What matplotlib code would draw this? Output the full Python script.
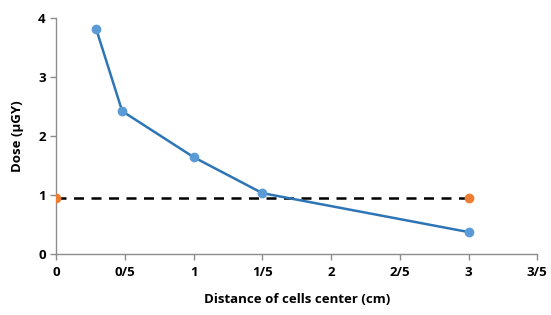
from matplotlib import pyplot as plt

# distance of cells center (cm) vs dose (uGy)
distance = [0.29, 0.48, 1.0, 1.5, 3.0]
dose = [3.82, 2.42, 1.64, 1.03, 0.37]

# reference level
ref_x = [0.0, 3.0]
ref_y = [0.95, 0.95]

xticks = [0, 0.5, 1, 1.5, 2, 2.5, 3, 3.5]
xlabels = ['0', '0/5', '1', '1/5', '2', '2/5', '3', '3/5']
yticks = [0, 1, 2, 3, 4]

plt.rcParams['font.family'] = ['Open Sans', 'DejaVu Sans']
plt.rcParams['font.weight'] = 'bold'

fig = plt.figure(figsize=(5.51, 3.15), dpi=100)
ax = fig.add_axes([0.102, 0.194, 0.873, 0.749])

ax.plot(ref_x, ref_y, color='black', ls=(0, (4, 3)), lw=1.8, zorder=2)
ax.plot(ref_x, ref_y, ls='none', marker='o', markersize=6, color='#ED7D31', zorder=3)
ax.plot(distance, dose, color='#2E75B6', lw=1.8, marker='o', markersize=6,
        markerfacecolor='#5B9BD5', markeredgecolor='#5B9BD5', zorder=4)

ax.set_xlim(0, 3.5)
ax.set_ylim(0, 4)
ax.set_xticks(xticks)
ax.set_xticklabels(xlabels)
ax.set_yticks(yticks)
for s in ['top', 'right']:
    ax.spines[s].set_visible(False)
for s in ['left', 'bottom']:
    ax.spines[s].set_color('#8c8c8c')
    ax.spines[s].set_linewidth(1.0)
ax.tick_params(axis='both', colors='#8c8c8c', labelcolor='black', labelsize=9.5,
               length=4, width=1.0)
ax.tick_params(axis='x', pad=5)
ax.set_xlabel('Distance of cells center (cm)', fontsize=9.5, fontweight='bold', labelpad=10)
ax.set_ylabel('Dose (\u03bcGY)', fontsize=9.5, fontweight='bold', labelpad=10)

plt.savefig('out.png', dpi=100)
